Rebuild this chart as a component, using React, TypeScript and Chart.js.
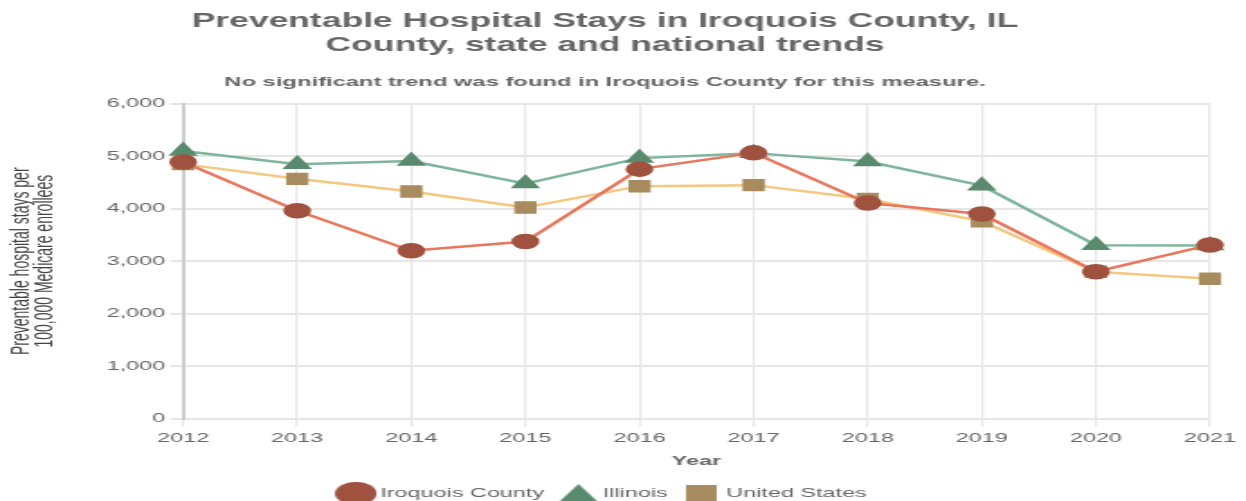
import React, { useEffect, useRef } from "react";
import { Chart, registerables } from "chart.js";

Chart.register(...registerables);

const years = ["2012", "2013", "2014", "2015", "2016", "2017", "2018", "2019", "2020", "2021"];
const iroquois = [4890, 3960, 3200, 3375, 4755, 5065, 4110, 3900, 2800, 3310];
const illinois = [5100, 4850, 4910, 4480, 4965, 5060, 4900, 4440, 3305, 3300];
const unitedStates = [4850, 4570, 4330, 4025, 4430, 4450, 4185, 3760, 2800, 2665];
const yTicks = [0, 1000, 2000, 3000, 4000, 5000, 6000];
const seriesNames = ["Iroquois County", "Illinois", "United States"];

const INNER_W = 692;
const INNER_H = 510;
const SHOWN_W = 1246;

function legendMarker(kind: string, color: string): HTMLCanvasElement {
  const c = document.createElement("canvas");
  const size = kind === "rect" ? 17 : 23;
  c.width = size;
  c.height = kind === "triangle" ? 19 : size;
  const g = c.getContext("2d")!;
  g.fillStyle = color;
  g.beginPath();
  if (kind === "circle") {
    g.arc(11.5, 11.5, 11.5, 0, Math.PI * 2);
  } else if (kind === "triangle") {
    g.moveTo(11.5, 0);
    g.lineTo(23, 19);
    g.lineTo(0, 19);
    g.closePath();
  } else {
    g.rect(0, 0, 17, 17);
  }
  g.fill();
  return c;
}

export default function App() {
  const ref = useRef<HTMLCanvasElement | null>(null);
  useEffect(() => {
    document.body.style.margin = "0";
    document.body.style.overflow = "hidden";
    const canvas = ref.current!;
    const ctx = canvas.getContext("2d")!;
    const font = "'Liberation Sans', Arial, sans-serif";
    const markerColors = ["#a0523f", "#5a8a6e", "#a88b5e"];
    const markerKinds = ["circle", "triangle", "rect"];
    const legendImgs = markerKinds.map((k, i) => legendMarker(k, markerColors[i]));
    const chart = new Chart(ctx, {
      type: "line",
      data: {
        labels: years,
        datasets: [
          {
            label: seriesNames[0],
            data: iroquois,
            borderColor: "#e8775b",
            backgroundColor: markerColors[0],
            pointBackgroundColor: markerColors[0],
            pointBorderColor: markerColors[0],
            pointStyle: "circle",
            pointRadius: 6.5,
            borderWidth: 2.5,
            order: 1,
          },
          {
            label: seriesNames[1],
            data: illinois,
            borderColor: "#7fb59b",
            backgroundColor: markerColors[1],
            pointBackgroundColor: markerColors[1],
            pointBorderColor: markerColors[1],
            pointStyle: "triangle",
            pointRadius: 7,
            borderWidth: 2.5,
            order: 2,
          },
          {
            label: seriesNames[2],
            data: unitedStates,
            borderColor: "#f5c882",
            backgroundColor: markerColors[2],
            pointBackgroundColor: markerColors[2],
            pointBorderColor: markerColors[2],
            pointStyle: "rect",
            pointRadius: 7,
            borderWidth: 2.5,
            order: 3,
          },
        ],
      },
      options: {
        responsive: false,
        animation: false,
        devicePixelRatio: 1,
        layout: { padding: { left: 0, right: 20, top: 10, bottom: 0 } },
        plugins: {
          title: {
            display: true,
            text: ["Preventable Hospital Stays in Iroquois County, IL", "County, state and national trends"],
            color: "#666",
            font: { family: font, size: 19.7, weight: "bold", lineHeight: 1.2 },
            padding: { top: 0, bottom: 16.7 },
          },
          subtitle: {
            display: true,
            text: "No significant trend was found in Iroquois County for this measure.",
            color: "#666",
            font: { family: font, size: 13.2, weight: "bold", lineHeight: 1.2 },
            padding: { top: 0, bottom: 14 },
          },
          legend: {
            position: "bottom",
            labels: {
              usePointStyle: true,
              pointStyleWidth: 14,
              color: "#666",
              font: { family: font, size: 13 },
              padding: 12,
              generateLabels: (ch: any) =>
                ch.data.datasets.map((ds: any, i: number) => ({
                  text: ds.label,
                  fillStyle: markerColors[i],
                  strokeStyle: markerColors[i],
                  fontColor: "#666",
                  lineWidth: 0,
                  pointStyle: legendImgs[i],
                  hidden: false,
                  datasetIndex: i,
                })),
            },
          },
          tooltip: { enabled: false },
        },
        scales: {
          x: {
            offset: false,
            grid: { color: "#e6e6e6", lineWidth: 1.2, tickLength: 8 },
            border: { display: false },
            ticks: { color: "#666", font: { family: font, size: 13 }, padding: 4, maxRotation: 0 },
            title: {
              display: true,
              text: "Year",
              color: "#666",
              font: { family: font, size: 13, weight: "bold", lineHeight: 1.2 },
              padding: { top: 3.6, bottom: 5.6 },
            },
          },
          y: {
            min: 0,
            max: 6000,
            afterBuildTicks: (axis: any) => {
              axis.ticks = yTicks.map((v) => ({ value: v }));
            },
            afterFit: (axis: any) => {
              axis.width = 101.7;
            },
            grid: { color: "#e6e6e6", lineWidth: 2, tickLength: 7 },
            border: { display: true, color: "#cccccc", width: 2 },
            ticks: {
              color: "#666",
              font: { family: font, size: 13 },
              padding: 3,
              callback: (v: any) => Number(v).toLocaleString("en-US"),
            },
            title: {
              display: true,
              text: ["Preventable hospital stays per", "100,000 Medicare enrollees"],
              color: "#444",
              font: { family: font, size: 14, lineHeight: 0.95 },
              padding: { top: 5.4, bottom: 0 },
            },
          },
        },
      },
    });
    canvas.style.width = SHOWN_W + "px";
    canvas.style.height = INNER_H + "px";
    return () => chart.destroy();
  }, []);
  return (
    <canvas
      ref={ref}
      width={INNER_W}
      height={INNER_H}
      style={{ display: "block", width: SHOWN_W + "px", height: INNER_H + "px" }}
    />
  );
}
